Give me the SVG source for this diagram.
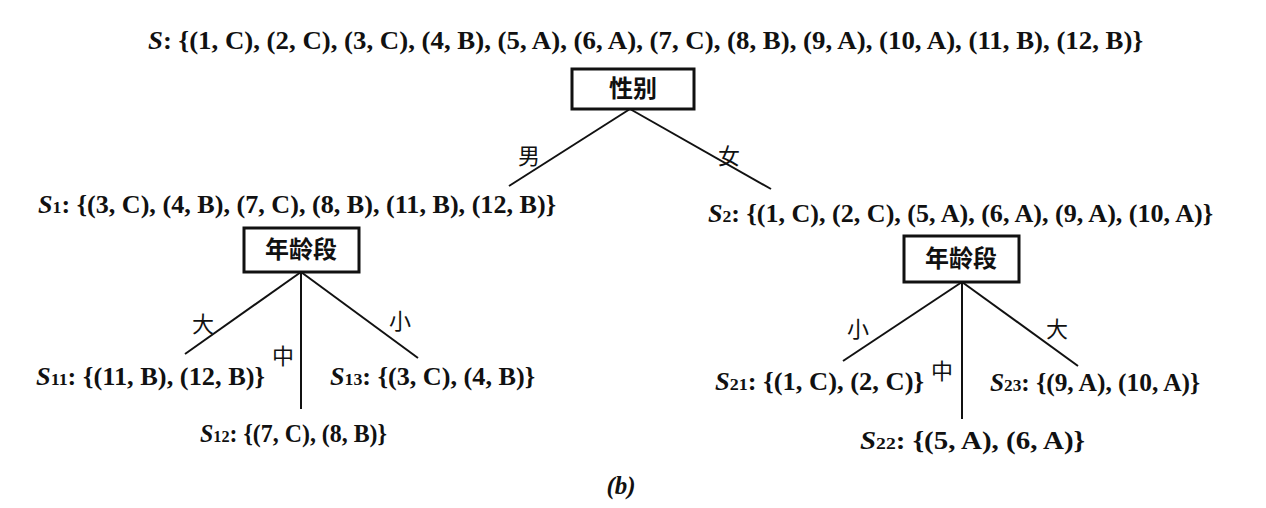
<svg xmlns="http://www.w3.org/2000/svg" width="1266" height="508" viewBox="0 0 1266 508">
<style>
.t{font-family:"Liberation Serif",serif;font-size:25px;font-weight:bold;fill:#111}
.s{font-size:17px}
.c{font-family:"Noto Sans CJK SC",sans-serif;font-size:22px;fill:#111}
.k{font-size:24px;font-weight:bold}
.b{fill:#fff;stroke:#111;stroke-width:3}
.l{stroke:#111;stroke-width:2;fill:none}
</style>
<rect width="1266" height="508" fill="#fff"/>
<g id="connectors">
<line class="l" x1="630" y1="109" x2="509" y2="186"/>
<line class="l" x1="630" y1="109" x2="771" y2="189"/>
<line class="l" x1="301" y1="272" x2="185" y2="354"/>
<line class="l" x1="301" y1="272" x2="301" y2="409"/>
<line class="l" x1="301" y1="272" x2="418" y2="358"/>
<line class="l" x1="962" y1="282" x2="843" y2="361"/>
<line class="l" x1="962" y1="282" x2="962" y2="419"/>
<line class="l" x1="962" y1="282" x2="1078" y2="366"/>
</g>
<g id="S"><text class="t" x="148" y="49" textLength="995" lengthAdjust="spacingAndGlyphs"><tspan font-style="italic">S</tspan>: {(1, C), (2, C), (3, C), (4, B), (5, A), (6, A), (7, C), (8, B), (9, A), (10, A), (11, B), (12, B)}</text></g>
<g id="n-gender"><rect class="b" x="572" y="69" width="122" height="40"/><text class="c k" x="633" y="97" text-anchor="middle">性别</text></g>
<text class="c" x="529" y="164" text-anchor="middle">男</text>
<text class="c" x="729" y="164" text-anchor="middle">女</text>
<g id="S1"><text class="t" x="38" y="213" textLength="518" lengthAdjust="spacingAndGlyphs"><tspan font-style="italic">S</tspan><tspan class="s">1</tspan>: {(3, C), (4, B), (7, C), (8, B), (11, B), (12, B)}</text></g>
<g id="S2"><text class="t" x="708" y="222" textLength="505" lengthAdjust="spacingAndGlyphs"><tspan font-style="italic">S</tspan><tspan class="s">2</tspan>: {(1, C), (2, C), (5, A), (6, A), (9, A), (10, A)}</text></g>
<g id="n-age1"><rect class="b" x="244" y="228" width="115" height="44"/><text class="c k" x="301" y="258" text-anchor="middle">年龄段</text></g>
<g id="n-age2"><rect class="b" x="904" y="236" width="115" height="46"/><text class="c k" x="961" y="267" text-anchor="middle">年龄段</text></g>
<text class="c" x="203" y="332" text-anchor="middle">大</text>
<text class="c" x="283" y="364" text-anchor="middle">中</text>
<text class="c" x="400" y="329" text-anchor="middle">小</text>
<text class="c" x="858" y="337" text-anchor="middle">小</text>
<text class="c" x="942" y="379" text-anchor="middle">中</text>
<text class="c" x="1057" y="337" text-anchor="middle">大</text>
<g id="S11"><text class="t" x="36" y="385" textLength="229" lengthAdjust="spacingAndGlyphs"><tspan font-style="italic">S</tspan><tspan class="s">11</tspan>: {(11, B), (12, B)}</text></g>
<g id="S13"><text class="t" x="330" y="385" textLength="205" lengthAdjust="spacingAndGlyphs"><tspan font-style="italic">S</tspan><tspan class="s">13</tspan>: {(3, C), (4, B)}</text></g>
<g id="S12"><text class="t" x="200" y="442" textLength="187" lengthAdjust="spacingAndGlyphs"><tspan font-style="italic">S</tspan><tspan class="s">12</tspan>: {(7, C), (8, B)}</text></g>
<g id="S21"><text class="t" x="715" y="390" textLength="209" lengthAdjust="spacingAndGlyphs"><tspan font-style="italic">S</tspan><tspan class="s">21</tspan>: {(1, C), (2, C)}</text></g>
<g id="S23"><text class="t" x="990" y="391" textLength="210" lengthAdjust="spacingAndGlyphs"><tspan font-style="italic">S</tspan><tspan class="s">23</tspan>: {(9, A), (10, A)}</text></g>
<g id="S22"><text class="t" x="860" y="449" textLength="225" lengthAdjust="spacingAndGlyphs"><tspan font-style="italic">S</tspan><tspan class="s">22</tspan>: {(5, A), (6, A)}</text></g>
<text class="t" x="621" y="494" text-anchor="middle" font-style="italic">(b)</text>
</svg>
